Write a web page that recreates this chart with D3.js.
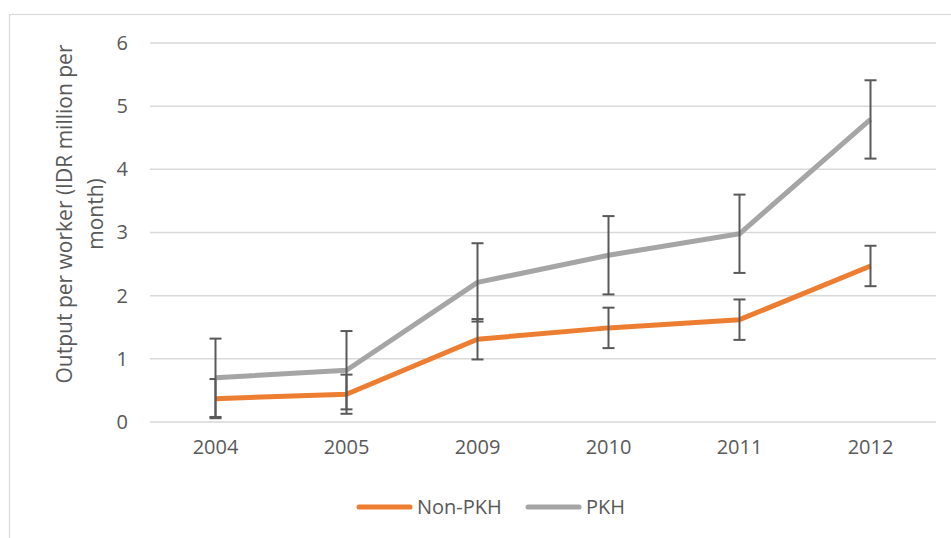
<!DOCTYPE html>
<html>
<head>
<meta charset="utf-8">
<script src="https://cdn.jsdelivr.net/npm/d3@7"></script>
<style>
  html, body { margin: 0; padding: 0; background: #fff; }
  svg { display: block; font-family: "Open Sans", sans-serif; }
</style>
</head>
<body>
<div id="chart"></div>
<script>
'use strict';

const years = ['2004', '2005', '2009', '2010', '2011', '2012'];
const nonPkh = [0.37, 0.44, 1.31, 1.49, 1.62, 2.47];
const nonPkhErr = [0.31, 0.31, 0.32, 0.32, 0.32, 0.32];
const pkh = [0.70, 0.82, 2.21, 2.64, 2.98, 4.79];
const pkhErr = [0.62, 0.62, 0.62, 0.62, 0.62, 0.62];
const yTicks = [0, 1, 2, 3, 4, 5, 6];

const W = 951, H = 538;
const TEXT = '#595959';
const GRID = '#d9d9d9';

const series = [
  { name: 'Non-PKH', values: nonPkh, err: nonPkhErr, color: '#ed7d31' },
  { name: 'PKH', values: pkh, err: pkhErr, color: '#a5a5a5' },
];

const svg = d3.select('#chart').append('svg')
  .attr('width', W)
  .attr('height', H);

// chart area frame
svg.append('rect')
  .attr('x', 9.5).attr('y', 14.5)
  .attr('width', W).attr('height', H)
  .attr('fill', 'none')
  .attr('stroke', GRID)
  .attr('stroke-width', 1.2);

const x = d3.scaleBand().domain(years).range([150, 936]);
const y = d3.scaleLinear().domain([0, 6]).range([422, 43]);

// gridlines
svg.append('g')
  .selectAll('line')
  .data(yTicks)
  .join('line')
  .attr('x1', 150).attr('x2', 936)
  .attr('y1', d => y(d)).attr('y2', d => y(d))
  .attr('stroke', GRID)
  .attr('stroke-width', 1.5);

// y axis labels
const yAxis = svg.append('g')
  .attr('transform', 'translate(136,0)')
  .call(d3.axisLeft(y).tickValues(yTicks).tickSize(0).tickPadding(8).tickFormat(d3.format('d')));
yAxis.select('.domain').remove();
yAxis.selectAll('text')
  .attr('fill', TEXT)
  .style('font-size', '20px')
  .style('font-family', '"Open Sans", sans-serif');

// x axis labels
const xAxis = svg.append('g')
  .attr('transform', 'translate(0,432)')
  .call(d3.axisBottom(x).tickSize(0).tickPadding(8));
xAxis.select('.domain').remove();
xAxis.selectAll('text')
  .attr('fill', TEXT)
  .style('font-size', '20px')
  .style('font-family', '"Open Sans", sans-serif');

// axis title
const title = svg.append('text')
  .attr('transform', 'translate(0,214) rotate(-90)')
  .attr('text-anchor', 'middle')
  .attr('fill', TEXT)
  .style('font-size', '21px');
title.append('tspan').attr('x', 0).attr('y', 72).text('Output per worker (IDR million per');
title.append('tspan').attr('x', 0).attr('y', 103).text('month)');

const cx = d => x(d) + x.bandwidth() / 2;

const line = d3.line()
  .x(d => cx(d.year))
  .y(d => y(d.v));

series.forEach(s => {
  const pts = years.map((yr, i) => ({ year: yr, v: s.values[i], e: s.err[i] }));

  svg.append('path')
    .datum(pts)
    .attr('fill', 'none')
    .attr('stroke', s.color)
    .attr('stroke-width', 5)
    .attr('stroke-linejoin', 'round')
    .attr('d', line);

  const eb = svg.append('g')
    .attr('stroke', '#595959')
    .attr('stroke-width', 2);
  pts.forEach(p => {
    const px = cx(p.year);
    eb.append('line')
      .attr('x1', px).attr('x2', px)
      .attr('y1', y(p.v + p.e)).attr('y2', y(p.v - p.e));
    [p.v + p.e, p.v - p.e].forEach(v => {
      eb.append('line')
        .attr('x1', px - 6).attr('x2', px + 6)
        .attr('y1', y(v)).attr('y2', y(v));
    });
  });
});

// legend
const legend = svg.append('g');
const legendX = [357, 526];
series.forEach((s, i) => {
  const g = legend.append('g').attr('transform', `translate(${legendX[i]},507)`);
  g.append('line')
    .attr('x1', 2).attr('x2', 53)
    .attr('stroke', s.color)
    .attr('stroke-width', 5)
    .attr('stroke-linecap', 'round');
  g.append('text')
    .attr('x', 60).attr('y', 7)
    .attr('fill', TEXT)
    .style('font-size', '20px')
    .text(s.name);
});
</script>
</body>
</html>
